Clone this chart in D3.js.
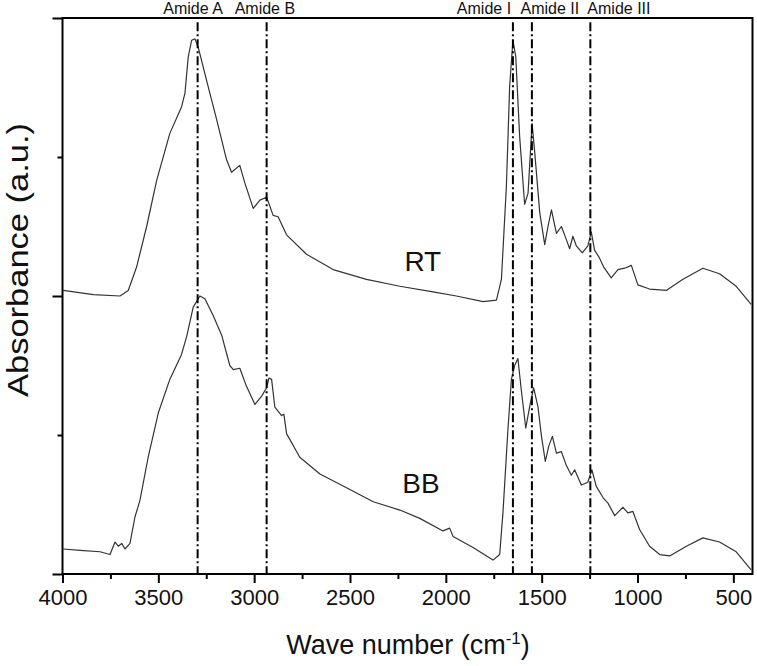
<!DOCTYPE html>
<html>
<head>
<meta charset="utf-8">
<script src="https://cdn.jsdelivr.net/npm/d3@7"></script>
<style>
  body { margin: 0; background: #fff; }
  svg text { font-family: "Liberation Sans", Arial, sans-serif; fill: #111; }
</style>
</head>
<body>
<div class="container"></div>
<script>
const WIDTH = 757;
const HEIGHT = 666;

// spectra (wave number, absorbance in axis units)
var rtWave = [3996, 3839, 3700, 3657, 3613, 3561, 3509, 3440, 3379, 3361, 3344, 3326, 3309, 3292, 3248, 3196, 3144, 3118, 3075, 3048, 3005, 2970, 2935, 2901, 2875, 2831, 2727, 2588, 2414, 2240, 2067, 1945, 1806, 1736, 1710, 1684, 1667, 1650, 1635, 1615, 1589, 1571, 1550, 1536, 1510, 1484, 1467, 1449, 1423, 1397, 1375, 1354, 1337, 1319, 1288, 1259, 1241, 1224, 1201, 1177, 1137, 1102, 1067, 1032, 998, 937, 850, 763, 659, 572, 485, 407];
var rtAbs = [2.04, 2.01, 2.0, 2.04, 2.21, 2.50, 2.83, 3.17, 3.36, 3.46, 3.72, 3.84, 3.85, 3.79, 3.55, 3.27, 2.98, 2.89, 2.94, 2.81, 2.63, 2.69, 2.71, 2.58, 2.57, 2.44, 2.30, 2.19, 2.12, 2.07, 2.03, 2.0, 1.96, 1.97, 2.12, 2.79, 3.51, 3.84, 3.72, 3.15, 2.66, 2.74, 3.24, 3.03, 2.60, 2.37, 2.50, 2.62, 2.45, 2.50, 2.42, 2.34, 2.43, 2.36, 2.31, 2.36, 2.46, 2.33, 2.28, 2.21, 2.13, 2.19, 2.20, 2.22, 2.08, 2.05, 2.04, 2.12, 2.20, 2.16, 2.07, 1.94];

var bbWave = [3996, 3909, 3804, 3752, 3726, 3709, 3691, 3674, 3648, 3622, 3596, 3553, 3500, 3440, 3379, 3352, 3318, 3283, 3257, 3214, 3170, 3127, 3109, 3075, 3040, 2996, 2961, 2935, 2923, 2909, 2892, 2857, 2845, 2831, 2762, 2657, 2518, 2379, 2240, 2136, 2015, 1980, 1962, 1858, 1754, 1719, 1702, 1676, 1658, 1641, 1624, 1606, 1583, 1563, 1542, 1519, 1501, 1481, 1463, 1444, 1423, 1397, 1371, 1345, 1328, 1293, 1259, 1238, 1215, 1180, 1154, 1119, 1076, 1050, 1024, 989, 937, 884, 832, 745, 659, 572, 485, 407];
var bbAbs = [0.18, 0.17, 0.16, 0.14, 0.23, 0.20, 0.22, 0.18, 0.22, 0.41, 0.53, 0.84, 1.16, 1.40, 1.58, 1.71, 1.92, 2.0, 1.98, 1.86, 1.72, 1.50, 1.47, 1.48, 1.35, 1.22, 1.28, 1.34, 1.41, 1.40, 1.20, 1.14, 1.15, 1.01, 0.84, 0.72, 0.62, 0.52, 0.46, 0.40, 0.31, 0.33, 0.27, 0.19, 0.10, 0.14, 0.44, 1.04, 1.40, 1.50, 1.55, 1.32, 1.05, 1.20, 1.34, 1.20, 0.99, 0.81, 0.92, 0.99, 0.87, 0.88, 0.78, 0.71, 0.75, 0.64, 0.66, 0.75, 0.63, 0.55, 0.51, 0.42, 0.48, 0.44, 0.45, 0.32, 0.20, 0.14, 0.13, 0.20, 0.26, 0.23, 0.16, 0.03];

var amideNames = ['Amide A', 'Amide B', 'Amide I', 'Amide II', 'Amide III'];
var amideWave = [3295, 2935, 1650, 1551, 1246];
var amideLabelWave = [3319, 2944, 1801, 1457, 1097];

var sampleNames = ['RT', 'BB'];
var sampleLabelAt = [[2120, 2.18], [2130, 0.583]];

var xMajor = [4000, 3500, 3000, 2500, 2000, 1500, 1000, 500];
var xMinor = [3750, 3250, 2750, 2250, 1750, 1250, 750];
var yMajor = [0, 2, 4];
var yMinor = [1, 3];

var translate = function(x, y) {
    return `translate(${x},${y})`;
};

var zip = function(xs, ys) {
    return xs.map((x, i) => [x, ys[i]]);
};

var draw = function() {
    var svg = d3.select('.container').append('svg')
        .attr('width', WIDTH)
        .attr('height', HEIGHT);

    svg.append('rect').attr('width', WIDTH).attr('height', HEIGHT).attr('fill', '#fff');

    let x = d3.scaleLinear().domain([4000, 400]).range([62.5, 752.5]);
    let y = d3.scaleLinear().domain([0, 4]).range([574, 18]);

    // spectra
    var line = d3.line()
        .x((d) => x(d[0]))
        .y((d) => y(d[1]));

    [zip(rtWave, rtAbs), zip(bbWave, bbAbs)].forEach(function(s) {
        svg.append('path')
            .attr('d', line(s))
            .attr('fill', 'none')
            .attr('stroke', '#333')
            .attr('stroke-width', 1.2)
            .attr('stroke-linejoin', 'round');
    });

    // amide markers
    svg.selectAll('.amide').data(amideWave).enter()
        .append('line')
        .attr('x1', (d) => x(d)).attr('x2', (d) => x(d))
        .attr('y1', y(3.97)).attr('y2', y(0))
        .attr('stroke', '#000')
        .attr('stroke-width', 2)
        .attr('stroke-dasharray', '9,3,2,3');

    svg.selectAll('.amideLabel').data(amideNames).enter()
        .append('text')
        .attr('x', (d, i) => x(amideLabelWave[i]))
        .attr('y', 14)
        .attr('text-anchor', 'middle')
        .attr('font-size', 16)
        .text((d) => d);

    // frame
    svg.append('rect')
        .attr('x', x(4000)).attr('y', y(4))
        .attr('width', x(400) - x(4000)).attr('height', y(0) - y(4))
        .attr('fill', 'none').attr('stroke', '#000').attr('stroke-width', 2);

    // axes
    var xAxis = svg.append('g').attr('transform', translate(0, y(0)))
        .call(d3.axisBottom(x).tickValues(xMajor).tickSize(9).tickSizeOuter(0).tickPadding(6).tickFormat((d) => d));
    svg.append('g').attr('transform', translate(0, y(0)))
        .call(d3.axisBottom(x).tickValues(xMinor).tickSize(5).tickSizeOuter(0).tickFormat(''));
    svg.append('g').attr('transform', translate(x(4000), 0))
        .call(d3.axisLeft(y).tickValues(yMajor).tickSize(10).tickSizeOuter(0).tickFormat(''));
    svg.append('g').attr('transform', translate(x(4000), 0))
        .call(d3.axisLeft(y).tickValues(yMinor).tickSize(5).tickSizeOuter(0).tickFormat(''));

    svg.selectAll('.domain').remove();
    svg.selectAll('.tick line').attr('stroke', '#000').attr('stroke-width', 2);
    xAxis.selectAll('text')
        .attr('font-size', 22)
        .attr('font-family', '"Liberation Sans", Arial, sans-serif')
        .attr('fill', '#111');

    // sample names
    svg.selectAll('.sample').data(sampleNames).enter()
        .append('text')
        .attr('x', (d, i) => x(sampleLabelAt[i][0]))
        .attr('y', (d, i) => y(sampleLabelAt[i][1]))
        .attr('text-anchor', 'middle')
        .attr('font-size', 28)
        .text((d) => d);

    // titles
    var xt = svg.append('text')
        .attr('x', 408).attr('y', 654)
        .attr('text-anchor', 'middle')
        .attr('font-size', 27);
    xt.append('tspan').text('Wave number (cm');
    xt.append('tspan').attr('dy', -10).attr('font-size', 17).text('-1');
    xt.append('tspan').attr('dy', 10).text(')');

    svg.append('text')
        .attr('transform', translate(28, 260) + ' rotate(-90)')
        .attr('text-anchor', 'middle')
        .attr('font-size', 29)
        .attr('textLength', 274)
        .attr('lengthAdjust', 'spacingAndGlyphs')
        .text('Absorbance (a.u.)');
};
window.onload = draw;
</script>
</body>
</html>
